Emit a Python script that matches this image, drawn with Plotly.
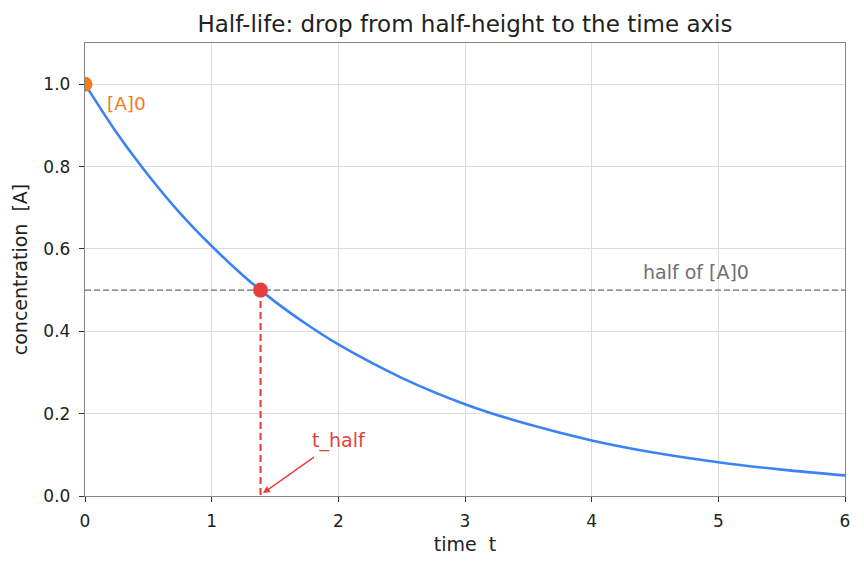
import plotly.graph_objects as go

# data
t_vals = [0, 0.25, 0.5, 0.75, 1.0, 1.25, 1.5, 1.75, 2.0, 2.5, 3.0, 3.5, 4.0, 4.5, 5.0, 5.5, 6.0]
conc_vals = [1.0, 0.882, 0.779, 0.687, 0.607, 0.535, 0.472, 0.417, 0.368, 0.287, 0.223, 0.174, 0.135, 0.105, 0.082, 0.064, 0.050]
a0 = 1.0
half_level = 0.5
t_half = 1.386
x_ticks = [0, 1, 2, 3, 4, 5, 6]
y_ticks = [0.0, 0.2, 0.4, 0.6, 0.8, 1.0]

BLUE = "#3b82f6"
RED = "#e53e3e"
ORANGE = "#f07c1c"
GREY = "#6b6b6b"

fig = go.Figure()
fig.add_trace(go.Scatter(x=t_vals, y=conc_vals, mode="lines",
                         line=dict(color=BLUE, width=2.6, shape="spline"),
                         hoverinfo="skip", showlegend=False))
# half line
fig.add_trace(go.Scatter(x=[x_ticks[0], x_ticks[-1]], y=[half_level, half_level], mode="lines",
                         line=dict(color=GREY, width=1.4, dash="6px,3px"), showlegend=False))
# drop line
fig.add_trace(go.Scatter(x=[t_half, t_half], y=[half_level, 0], mode="lines",
                         line=dict(color=RED, width=2.1, dash="7px,4px"), showlegend=False))
fig.add_trace(go.Scatter(x=[t_half], y=[half_level], mode="markers",
                         marker=dict(color=RED, size=15), showlegend=False))
fig.add_trace(go.Scatter(x=[0], y=[a0], mode="markers",
                         marker=dict(color=ORANGE, size=15), showlegend=False))

fig.add_annotation(x=0.155, y=0.954, text="[A]0", showarrow=False, xanchor="left",
                   font=dict(color=ORANGE, size=18.5))
fig.add_annotation(x=4.82, y=0.544, text="half of [A]0", showarrow=False,
                   font=dict(color="#707070", size=19))
fig.add_annotation(x=1.405, y=0.007, ax=1.82, ay=0.097, axref="x", ayref="y",
                   text="", showarrow=True, arrowhead=2, arrowsize=1, arrowwidth=1.4,
                   arrowcolor=RED)
fig.add_annotation(x=1.78, y=0.134, text="t_half", showarrow=False, xanchor="left",
                   font=dict(color=RED, size=19))

axis_common = dict(showline=True, linecolor="#858585", linewidth=1.4, mirror=True,
                   gridcolor="#dcdcdc", gridwidth=1, ticks="outside", ticklen=5,
                   tickcolor="#333", zeroline=False, tickfont=dict(size=17, color="#222"))
fig.update_xaxes(range=[0, 6], tickvals=x_ticks, ticklabelstandoff=4,
                 title=dict(text="time  t", font=dict(size=19), standoff=8),
                 **axis_common)
fig.update_yaxes(range=[0, 1.1], tickvals=y_ticks, tickformat=".1f", ticklabelstandoff=5,
                 title=dict(text="concentration  [A]", font=dict(size=19), standoff=10),
                 **axis_common)

fig.update_layout(
    width=864, height=569,
    margin=dict(l=85, r=19, t=43, b=73),
    plot_bgcolor="white", paper_bgcolor="white",
    font=dict(family="DejaVu Sans", color="#222"),
    title=dict(text="Half-life: drop from half-height to the time axis", x=0.5, xanchor="center",
               xref="paper", y=0.958, yanchor="middle", font=dict(size=23, color="#222")),
)
fig.write_html("out.html")
